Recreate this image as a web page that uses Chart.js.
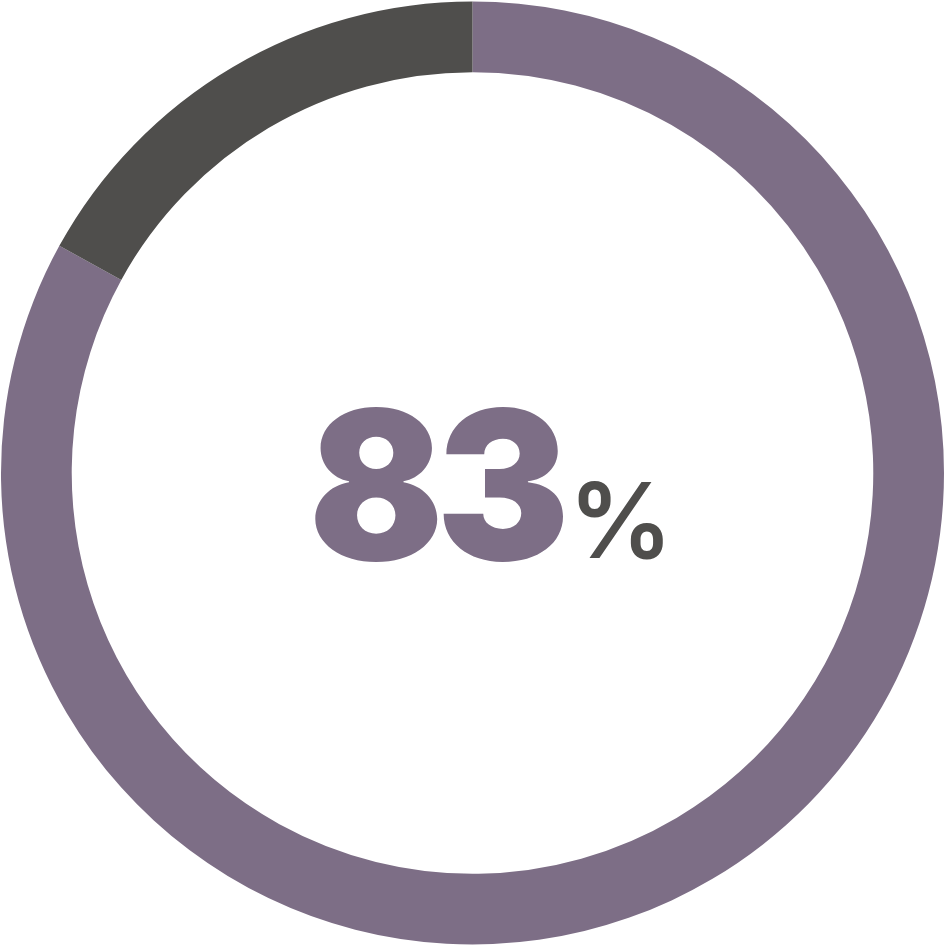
<!DOCTYPE html>
<html>
<head>
<meta charset="utf-8">
<script src="https://cdn.jsdelivr.net/npm/chart.js@4"></script>
<style>
  html, body { margin: 0; padding: 0; background: #fff; }
  #wrap { width: 945px; height: 946px; }
</style>
</head>
<body>
<div id="wrap"><canvas id="ringChart" width="945" height="946"></canvas></div>
<script>
// data
const segmentLabels = ['Yes', 'No'];
const segmentValues = [83, 17];
const segmentColors = ['#7d6e86', '#4f4e4c'];
const centerNumber = '83';
const centerSuffix = '%';

// draw the big number in the middle of the ring
const centerText = {
    id: 'centerText',
    afterDraw(chart) {
        const c = chart.ctx;
        const meta = chart.getDatasetMeta(0).data[0];
        const cx = meta.x, cy = meta.y;
        c.save();
        c.textBaseline = 'alphabetic';
        c.textAlign = 'left';
        const left = cx - 164;
        // slightly condensed so the digits fit like the original
        c.save();
        c.translate(left, cy + 87);
        c.scale(0.96, 1);
        c.font = '900 208px Inter';
        c.letterSpacing = '-8px';
        c.fillStyle = segmentColors[0];
        c.fillText(centerNumber, 0, 0);
        c.restore();
        c.letterSpacing = '0px';
        c.font = '600 104px Inter';
        c.fillStyle = segmentColors[1];
        c.fillText(centerSuffix, cx + 96, cy + 85);
        c.restore();
    }
};

new Chart(document.getElementById('ringChart').getContext('2d'), {
    type: 'doughnut',
    data: {
        labels: segmentLabels,
        datasets: [{
            data: segmentValues,
            backgroundColor: segmentColors,
            borderWidth: 0
        }]
    },
    options: {
        responsive: false,
        animation: false,
        cutout: '85%',
        layout: { padding: 1 },
        plugins: {
            legend: { display: false },
            tooltip: { enabled: false }
        }
    },
    plugins: [centerText]
});
</script>
</body>
</html>
